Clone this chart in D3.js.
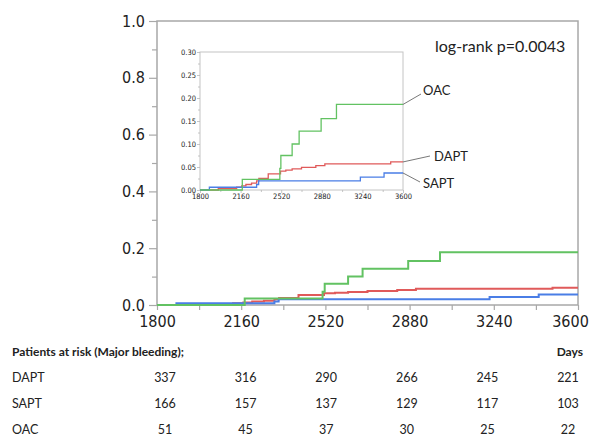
<!DOCTYPE html>
<html>
<head>
<meta charset="utf-8">
<script src="https://cdn.jsdelivr.net/npm/d3@7"></script>
<style>
  body { margin: 0; background: #fff; }
  svg text { fill: #222; }
</style>
</head>
<body>
<svg id="km" width="589" height="438"></svg>
<script>
// cumulative incidence steps, [day, value]
var oacSteps = [[1800, 0], [2175, 0.023], [2508, 0.047], [2517, 0.075], [2617, 0.100],
  [2679, 0.128], [2874, 0.155], [3010, 0.186], [3600, 0.186]];
var daptSteps = [[1800, 0], [1962, 0.003], [2125, 0.006], [2169, 0.009], [2207, 0.012],
  [2257, 0.015], [2302, 0.020], [2322, 0.025], [2405, 0.035], [2514, 0.041],
  [2561, 0.043], [2617, 0.046], [2700, 0.049], [2827, 0.053], [2907, 0.057],
  [3491, 0.061], [3600, 0.061]];
var saptSteps = [[1800, 0], [1883, 0.006], [2302, 0.012], [2320, 0.020], [3222, 0.028],
  [3432, 0.037], [3600, 0.037]];

var xTicks = [1800, 2160, 2520, 2880, 3240, 3600];
var yTicks = [0, 0.2, 0.4, 0.6, 0.8, 1.0];
var insetYTicks = [0, 0.05, 0.10, 0.15, 0.20, 0.25, 0.30];

// patients at risk table
var riskGroups = ["DAPT", "SAPT", "OAC"];
var riskDapt = [337, 316, 290, 266, 245, 221];
var riskSapt = [166, 157, 137, 129, 117, 103];
var riskOac = [51, 45, 37, 30, 25, 22];

var colors = { OAC: "#62c262", DAPT: "#e05a5a", SAPT: "#4a7ee6" };
var axisGray = "#a8a8a8";

var svg = d3.select("#km");

// ---- main plot ----
var x = d3.scaleLinear().domain([1800, 3600]).range([157, 578]);
var y = d3.scaleLinear().domain([0, 1]).range([305, 21]);

svg.append("rect")
  .attr("x", 157).attr("y", 21).attr("width", 421).attr("height", 284)
  .attr("fill", "none").attr("stroke", axisGray).attr("stroke-width", 1.5);

// y axis
var yAxis = svg.append("g").attr("transform", "translate(157,0)")
  .call(d3.axisLeft(y).tickValues(yTicks).tickFormat(d3.format(".1f")).tickSize(8).tickPadding(4));
svg.append("g").attr("transform", "translate(157,0)")
  .call(d3.axisLeft(y).tickValues([0.1, 0.3, 0.5, 0.7, 0.9]).tickFormat("").tickSize(5));

// x axis
var xAxis = svg.append("g").attr("transform", "translate(0,305)")
  .call(d3.axisBottom(x).tickValues(xTicks).tickFormat(d3.format("d")).tickSize(5).tickPadding(6));
svg.append("g").attr("transform", "translate(0,305)")
  .call(d3.axisBottom(x).tickValues([1980, 2340, 2700, 3060, 3420]).tickFormat("").tickSize(5));

svg.selectAll(".domain").remove();
svg.selectAll(".tick line").attr("stroke", axisGray).attr("stroke-width", 1.2);
yAxis.selectAll("text").style("font-family", "DejaVu Sans Condensed, DejaVu Sans").style("font-size", "16px");
xAxis.selectAll("text").style("font-family", "DejaVu Sans Condensed, DejaVu Sans").style("font-size", "16px")
  .attr("dx", function (d) { return d === 3600 ? -8 : 0; });

var line = d3.line()
  .x(function (d) { return x(d[0]); })
  .y(function (d) { return y(d[1]); })
  .curve(d3.curveStepAfter);

var series = [
  { key: "DAPT", steps: daptSteps },
  { key: "SAPT", steps: saptSteps },
  { key: "OAC", steps: oacSteps }
];

svg.append("g").selectAll("path")
  .data(series)
  .enter()
  .append("path")
  .attr("d", function (d) { return line(d.steps); })
  .attr("fill", "none")
  .attr("stroke", function (d) { return colors[d.key]; })
  .attr("stroke-width", 2);

svg.append("text").attr("x", 435).attr("y", 52).text("log-rank p=0.0043")
  .style("font-family", "Lato").style("font-size", "16px");

// ---- inset ----
var xi = d3.scaleLinear().domain([1800, 3600]).range([200, 403]);
var yi = d3.scaleLinear().domain([0, 0.3]).range([190, 52]);

var inset = svg.append("g");
inset.append("rect")
  .attr("x", 200).attr("y", 52).attr("width", 203).attr("height", 138)
  .attr("fill", "#fff").attr("stroke", "#c4c4c4").attr("stroke-width", 1);

var yiAxis = inset.append("g").attr("transform", "translate(200,0)")
  .call(d3.axisLeft(yi).tickValues(insetYTicks).tickFormat(d3.format(".2f")).tickSize(3).tickPadding(1));
inset.append("g").attr("transform", "translate(200,0)")
  .call(d3.axisLeft(yi).tickValues([0.025, 0.075, 0.125, 0.175, 0.225, 0.275]).tickFormat("").tickSize(2));
var xiAxis = inset.append("g").attr("transform", "translate(0,190)")
  .call(d3.axisBottom(xi).tickValues(xTicks).tickFormat(d3.format("d")).tickSize(3).tickPadding(1));
inset.append("g").attr("transform", "translate(0,190)")
  .call(d3.axisBottom(xi).tickValues([1980, 2340, 2700, 3060, 3420]).tickFormat("").tickSize(2));

inset.selectAll(".domain").remove();
inset.selectAll(".tick line").attr("stroke", "#b8b8b8").attr("stroke-width", 0.8);
inset.selectAll(".tick text").style("font-family", "DejaVu Sans Condensed, DejaVu Sans").style("font-size", "7.5px");

var lineI = d3.line()
  .x(function (d) { return xi(d[0]); })
  .y(function (d) { return yi(d[1]); })
  .curve(d3.curveStepAfter);

inset.append("g").selectAll("path")
  .data(series)
  .enter()
  .append("path")
  .attr("d", function (d) { return lineI(d.steps); })
  .attr("fill", "none")
  .attr("stroke", function (d) { return colors[d.key]; })
  .attr("stroke-width", 1.3);

// series labels with leader lines
var labels = [
  { key: "OAC", lx: 421, ly: 94, tx: 423, ty: 90 },
  { key: "DAPT", lx: 430, ly: 156, tx: 434, ty: 156 },
  { key: "SAPT", lx: 420, ly: 182, tx: 423, ty: 183 }
];
var lastVal = { OAC: oacSteps[oacSteps.length - 1][1], DAPT: daptSteps[daptSteps.length - 1][1], SAPT: saptSteps[saptSteps.length - 1][1] };

svg.append("g").selectAll("line")
  .data(labels)
  .enter()
  .append("line")
  .attr("x1", xi(3600)).attr("y1", function (d) { return yi(lastVal[d.key]); })
  .attr("x2", function (d) { return d.lx; }).attr("y2", function (d) { return d.ly; })
  .attr("stroke", "#555").attr("stroke-width", 0.8);

svg.append("g").selectAll("text")
  .data(labels)
  .enter()
  .append("text")
  .attr("x", function (d) { return d.tx; })
  .attr("y", function (d) { return d.ty; })
  .attr("dy", "0.35em")
  .text(function (d) { return d.key; })
  .style("font-family", "Lato").style("font-size", "13px");

// ---- patients at risk table ----
var col = d3.scalePoint().domain(d3.range(6)).range([165, 568]);
var rowY = d3.scalePoint().domain(riskGroups).range([378, 430]);

svg.append("text").attr("x", 12).attr("y", 352).attr("dy", "0.35em")
  .text("Patients at risk (Major bleeding);")
  .style("font-family", "Lato").style("font-size", "12px").style("font-weight", "bold");
svg.append("text").attr("x", 583).attr("y", 352).attr("dy", "0.35em").attr("text-anchor", "end")
  .text("Days")
  .style("font-family", "Lato").style("font-size", "12px").style("font-weight", "bold");

var riskRows = [riskDapt, riskSapt, riskOac];
var rows = svg.append("g").selectAll("g")
  .data(riskGroups)
  .enter()
  .append("g")
  .attr("transform", function (d) { return "translate(0," + rowY(d) + ")"; });

rows.append("text").attr("x", 12).attr("dy", "0.35em")
  .text(function (d) { return d; })
  .style("font-family", "Lato").style("font-size", "12.5px");

rows.selectAll(".n")
  .data(function (d, i) { return riskRows[i]; })
  .enter()
  .append("text")
  .attr("class", "n")
  .attr("x", function (d, i) { return col(i); })
  .attr("dy", "0.35em")
  .attr("text-anchor", "middle")
  .text(function (d) { return d; })
  .style("font-family", "Lato").style("font-size", "12.5px");
</script>
</body>
</html>
